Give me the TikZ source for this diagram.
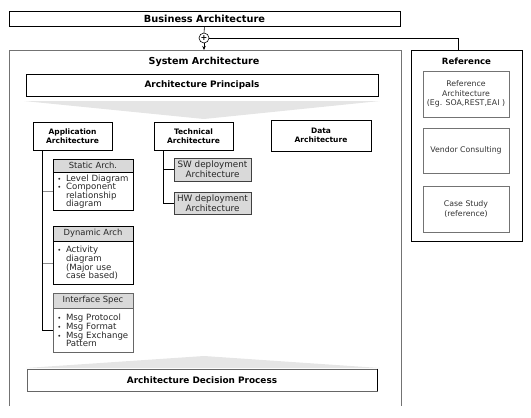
\documentclass[tikz,border=0pt]{standalone}
\usepackage{fontspec}
\setmainfont{DejaVu Sans}
\usetikzlibrary{arrows.meta}
\newcommand{\bul}{\makebox[13pt][l]{\hspace*{5pt}\raisebox{1pt}{\scalebox{0.55}{$\bullet$}}}}
\newcommand{\ind}{\hspace*{13pt}}
\begin{document}
\begin{tikzpicture}[x=1pt,y=-1pt,
  box/.style={draw=black, line width=0.6pt, inner sep=1pt, align=center},
  bigtitle/.style={font=\fontsize{9.6}{11}\selectfont\bfseries},
  subtitle/.style={box, font=\fontsize{7.5}{9.2}\selectfont\bfseries},
  hdr/.style={draw=black, line width=0.6pt, fill=black!15, inner sep=1pt, align=center, text=black!85, font=\fontsize{8.4}{9}\selectfont, minimum width=80pt},
  bodybox/.style={draw=black, line width=0.6pt, inner xsep=0pt, inner ysep=1.5pt, align=left, text=black!85, font=\fontsize{8.6}{8.6}\selectfont, minimum width=80pt, text width=80pt, anchor=north},
  dep/.style={draw=black!75, line width=0.6pt, fill=black!15, inner sep=1pt, align=center, text=black!85, font=\fontsize{8.8}{10}\selectfont, minimum width=77pt},
  refin/.style={draw=black!55, line width=0.6pt, inner sep=1pt, align=center, text=black!80, font=\fontsize{7.8}{9.2}\selectfont, minimum width=86pt},
  conn/.style={line width=0.6pt, draw=black},
  gconn/.style={line width=0.6pt, draw=black!45}
]
\useasboundingbox (0,0) rectangle (531,418);

% Business Architecture
\node[box, bigtitle, font=\fontsize{9.8}{11}\selectfont\bfseries, minimum width=391pt, minimum height=15pt] (ba) at (204.5,18.5) {Business Architecture};

% plus circle
\node[circle, draw=black, line width=0.6pt, minimum size=10pt, inner sep=0pt, font=\fontsize{8}{8}\selectfont\bfseries] (plus) at (204,38) {+};

% System Architecture frame (open at the bottom)
\draw[draw=black!55, line width=0.8pt] (9,406) -- (9,50) -- (401,50) -- (401,406);
\coordinate (systop) at (204,50);
\node[bigtitle] (systitle) at (204,62) {System Architecture};

% Reference frame
\node[draw=black, line width=0.7pt, minimum width=111pt, minimum height=191pt, inner sep=0pt] (ref) at (466.5,145.5) {};
\draw[line width=1.6pt] ([yshift=-6pt]ref.north east) -- (ref.south east) -- ([xshift=3pt]ref.south west);
\node[font=\fontsize{8.6}{10}\selectfont\bfseries] (reftitle) at (466.5,61) {Reference};
\coordinate (refin) at (458,50);

\node[refin, minimum height=46pt] (r1) at (466,94) {Reference\\Architecture\\(Eg. SOA,REST,EAI )};
\node[refin, minimum height=45pt] (r2) at (466,150.5) {Vendor Consulting};
\node[refin, minimum height=46pt] (r3) at (466,209) {Case Study\\(reference)};

% connectors at top
\draw[conn] (ba.south) -- (plus.north);
\draw[conn, -{Stealth[length=4pt,width=3.5pt]}] (plus.south) -- (systop);
\draw[conn] (plus.east) -| (refin);

% Architecture Principals
\node[box, font=\fontsize{8.9}{10}\selectfont\bfseries, minimum width=352pt, minimum height=22pt] (ap) at (202,85) {Architecture Principals};
\shade[left color=black!10, middle color=black!45, right color=black!10] (24,101) -- (380,101) -- (204,119) -- cycle;

% three architecture boxes
\node[subtitle, minimum width=79pt, minimum height=28pt] (app) at (72.5,136) {Application\\Architecture};
\node[subtitle, minimum width=79pt, minimum height=28pt] (tech) at (193.5,136) {Technical\\Architecture};
\node[subtitle, minimum width=100pt, minimum height=31pt] (data) at (321,135.5) {Data\\Architecture};

% Static Arch
\node[hdr, minimum height=13pt] (sth) at (93,165.5) {Static Arch.};
\node[bodybox, minimum height=38pt] (stb) at (sth.south) {\bul Level Diagram\\\bul Component\\\ind relationship\\\ind diagram};

% Dynamic Arch
\node[hdr, minimum height=15pt] (dyh) at (93,233.5) {Dynamic Arch};
\node[bodybox, minimum height=43pt] (dyb) at (dyh.south) {\bul Activity\\\ind diagram\\\ind (Major use\\\ind case based)};

% Interface Spec
\node[hdr, draw=black!60, minimum height=15pt] (ifh) at (93,300.5) {Interface Spec};
\node[bodybox, draw=black!60, minimum height=44pt] (ifb) at (ifh.south) {\bul Msg Protocol\\\bul Msg Format\\\bul Msg Exchange\\\ind Pattern};

% SW / HW deployment
\node[dep, minimum height=23pt] (sw) at (212.5,169.5) {SW deployment\\Architecture};
\node[dep, minimum height=22pt] (hw) at (212.5,203) {HW deployment\\Architecture};

% application tree
\draw[gconn] ([xshift=10pt]app.south west) |- (stb.west);
\draw[gconn] ([xshift=10pt]app.south west) |- (dyb.west);
\draw[conn] ([xshift=10pt]app.south west) |- (ifb.west);

% technical tree
\draw[conn] ([xshift=10pt]tech.south west) |- (sw.west);
\draw[conn] ([xshift=10pt]tech.south west) |- (hw.west);

% Architecture Decision Process
\shade[left color=black!10, middle color=black!40, right color=black!10] (26,368) -- (380,368) -- (204,356) -- cycle;
\node[box, draw=black!60, font=\fontsize{8.9}{10}\selectfont\bfseries, minimum width=350pt, minimum height=22pt] (adp) at (202,380) {Architecture Decision Process};
\draw[line width=1pt] (adp.north east) -- (adp.south east);
\end{tikzpicture}
\end{document}
